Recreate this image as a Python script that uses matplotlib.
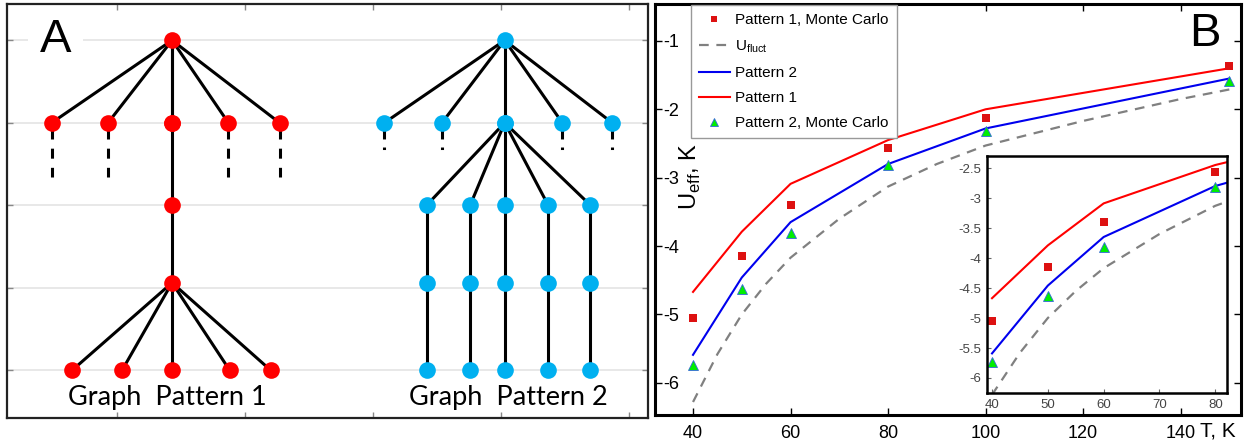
import matplotlib
matplotlib.use('Agg')
import matplotlib.pyplot as plt
from matplotlib.lines import Line2D

plt.rcParams['font.family'] = ['Liberation Sans', 'DejaVu Sans']
plt.rcParams['axes.unicode_minus'] = False
plt.rcParams['mathtext.fontset'] = 'custom'
plt.rcParams['mathtext.rm'] = 'Liberation Sans'
plt.rcParams['lines.scale_dashes'] = False

# ---- panel A: graph patterns (grid units) ----
levels = [0, 1, 2, 2.94, 4]
red_top_x = 1.43
red_mid_x = [0.49, 0.93, 1.43, 1.87, 2.27]
red_leaf_x = [0.65, 1.04, 1.43, 1.88, 2.20]
blue_top_x = 4.03
blue_mid_x = [3.09, 3.54, 4.03, 4.48, 4.87]
blue_chain_x = [3.42, 3.76, 4.03, 4.37, 4.70]

# ---- panel B: effective potential ----
T = [40, 50, 60, 80, 100, 150]
pattern1 = [-4.67, -3.79, -3.09, -2.45, -2.00, -1.40]
pattern2 = [-5.59, -4.46, -3.65, -2.80, -2.28, -1.55]
pattern1_mc = [-5.05, -4.15, -3.40, -2.56, -2.12, -1.36]
pattern2_mc = [-5.74, -4.63, -3.81, -2.82, -2.32, -1.59]
fluct_T = [40, 45, 50, 55, 60, 70, 80, 90, 100, 120, 140, 150]
u_fluct = [-6.28, -5.58, -5.00, -4.55, -4.17, -3.60, -3.13, -2.80, -2.53, -2.17, -1.85, -1.71]

RED = '#ff0000'
CYAN = '#00b0f0'
W, H = 1251, 442

fig = plt.figure(figsize=(12.51, 4.42), dpi=100)

axA = fig.add_axes([7 / W, 1 - 418 / H, (648 - 7) / W, (418 - 4) / H])
axB = fig.add_axes([655 / W, 1 - 415 / H, (1241 - 655) / W, (415 - 4) / H])
axI = fig.add_axes([987 / W, 1 - 393 / H, (1227 - 987) / W, (393 - 156) / H])

# ---------------- A ----------------
edge = dict(color='black', lw=2.2, zorder=2, solid_capstyle='butt')
node = dict(ls='none', marker='o', ms=12, mew=0, zorder=3)

# red graph
for x in red_mid_x:
    axA.plot([red_top_x, x], [levels[0], levels[1]], **edge)
for x in red_mid_x:
    if x != red_top_x:
        axA.plot([x, x], [1.07, 1.66], color='black', lw=2.2, ls=(0, (7.2, 6.6)), zorder=2)
axA.plot([red_top_x] * 4, levels[:4], **edge)
for x in red_leaf_x:
    axA.plot([red_top_x, x], [levels[3], levels[4]], **edge)
axA.plot([red_top_x] * 4, levels[:4], color=RED, **node)
axA.plot(red_mid_x, [levels[1]] * 5, color=RED, **node)
axA.plot(red_leaf_x, [levels[4]] * 5, color=RED, **node)

# blue graph
for x in blue_mid_x:
    axA.plot([blue_top_x, x], [levels[0], levels[1]], **edge)
    if x != blue_top_x:
        axA.plot([x, x], [1.0, 1.33], color='black', lw=2.2, ls=(0, (11.5, 5.8, 1.8, 50)), zorder=2)
for x in blue_chain_x:
    axA.plot([blue_top_x, x], [levels[1], levels[2]], **edge)
    axA.plot([x] * 3, levels[2:], **edge)
axA.plot([blue_top_x] * 2, levels[:2], color=CYAN, **node)
axA.plot(blue_mid_x, [levels[1]] * 5, color=CYAN, **node)
for lev in levels[2:]:
    axA.plot(blue_chain_x, [lev] * 5, color=CYAN, **node)

axA.set_xlim(0.14, 5.15)
axA.set_ylim(4.58, -0.44)
axA.set_xticks([1, 2, 3, 4, 5])
axA.set_yticks([0, 1, 2, 3, 4])
axA.set_xticklabels([])
axA.set_yticklabels([])
axA.tick_params(direction='in', length=4, width=1, color='#888888',
                top=True, right=True)
axA.grid(axis='y', color='#e6e6e6', lw=1.3)
axA.set_axisbelow(True)
for s in axA.spines.values():
    s.set_color('#222222')
    s.set_linewidth(1.6)

axA.text(0.52, 0.0, 'A', fontsize=34, ha='center', va='center', zorder=1.5,
         bbox=dict(boxstyle='square,pad=0.25', fc='white', ec='none'))
axA.text(1.39, 4.33, 'Graph  Pattern 1', fontsize=19.5, ha='center', va='center',
         family=['Lato', 'DejaVu Sans'])
axA.text(4.06, 4.33, 'Graph  Pattern 2', fontsize=19.5, ha='center', va='center',
         family=['Lato', 'DejaVu Sans'])

# ---------------- B ----------------
def draw_series(ax, ms_sq, ms_tri):
    ax.plot(fluct_T, u_fluct, color='#808080', lw=1.6, ls=(0, (7, 5.5)))
    ax.plot(T, pattern2, color='#0000ee', lw=1.5)
    ax.plot(T, pattern1, color=RED, lw=1.5)
    ax.plot(T, pattern1_mc, ls='none', marker='s', ms=ms_sq, color='#dd1111', mew=0)
    ax.plot(T, pattern2_mc, ls='none', marker='^', ms=ms_tri, mfc='#00ee00',
            mec='#3366dd', mew=0.6)

draw_series(axB, 6, 7.5)
axB.set_xlim(32.2, 152.4)
axB.set_ylim(-6.47, -0.46)
axB.set_xticks([40, 60, 80, 100, 120, 140])
axB.set_yticks([-1, -2, -3, -4, -5, -6])
axB.tick_params(direction='in', length=5, width=1, top=True, right=True, labelsize=13)
axB.tick_params(axis='x', pad=7)
axB.tick_params(axis='y', pad=-6)
for lab in axB.get_yticklabels():
    lab.set_horizontalalignment('left')
for s in axB.spines.values():
    s.set_color('black')
    s.set_linewidth(2.2)

axB.text(0.939, 0.927, 'B', fontsize=34, ha='center', va='center', transform=axB.transAxes)
axB.text(0.961, -0.04, 'T, K', fontsize=15, ha='center', va='center', transform=axB.transAxes)
axB.text(0.06, 0.58, r'U$_\mathregular{eff}$, K', fontsize=17, rotation=90,
         ha='center', va='center', transform=axB.transAxes)

handles = [
    Line2D([], [], ls='none', marker='s', ms=5, color='#dd1111', mew=0),
    Line2D([], [], color='#808080', lw=1.6, ls=(0, (7, 5.5))),
    Line2D([], [], color='#0000ee', lw=1.5),
    Line2D([], [], color=RED, lw=1.5),
    Line2D([], [], ls='none', marker='^', ms=6, mfc='#00ee00', mec='#3366dd', mew=0.6),
]
labels = ['Pattern 1, Monte Carlo', r'U$_\mathregular{fluct}$', 'Pattern 2',
          'Pattern 1', 'Pattern 2, Monte Carlo']
leg = axB.legend(handles, labels, loc='upper left', bbox_to_anchor=(0.061, 0.998),
                 borderaxespad=0, fontsize=11, fancybox=False, framealpha=1,
                 edgecolor='#999999', handlelength=2.0, labelspacing=0.72,
                 borderpad=0.55, handletextpad=0.35)
leg.get_frame().set_linewidth(1.0)

# inset
draw_series(axI, 5.5, 7)
axI.set_xlim(39.1, 82.1)
axI.set_ylim(-6.25, -2.3)
axI.set_xticks([40, 50, 60, 70, 80])
axI.set_yticks([-2.5, -3, -3.5, -4, -4.5, -5, -5.5, -6])
axI.set_yticklabels(['%g' % v for v in [-2.5, -3, -3.5, -4, -4.5, -5, -5.5, -6]])
axI.tick_params(direction='in', length=3, width=0.8, color='#666666',
                labelsize=9.5, labelcolor='#444444', pad=4)
for s in axI.spines.values():
    s.set_color('black')
    s.set_linewidth(1.8)

fig.savefig('out.png', dpi=100)
